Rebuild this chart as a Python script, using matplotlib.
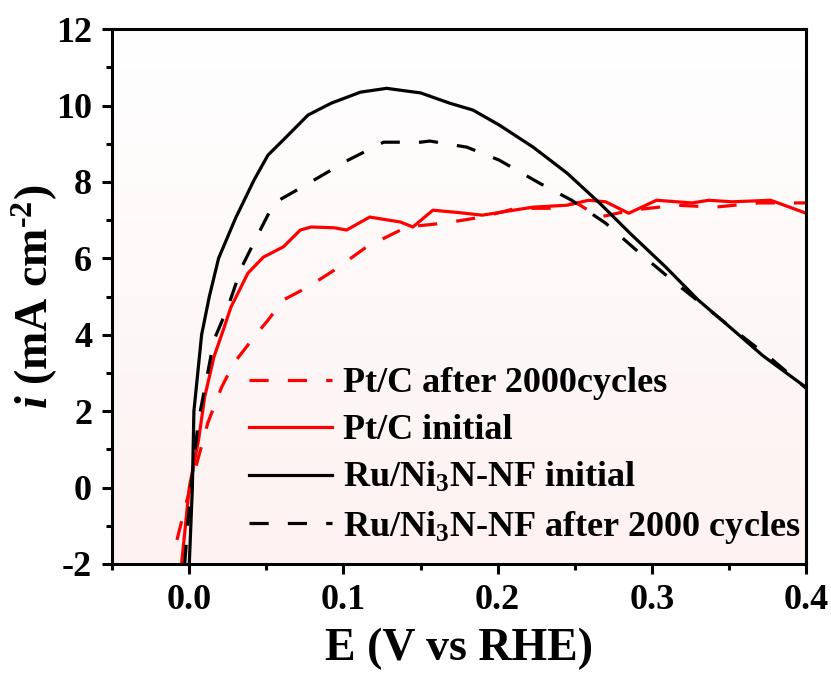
import numpy as np
import matplotlib
matplotlib.use('Agg')
import matplotlib.pyplot as plt
from matplotlib.ticker import MultipleLocator
from matplotlib.colors import LinearSegmentedColormap

plt.rcParams['font.family'] = 'Liberation Serif'
plt.rcParams['font.weight'] = 'bold'
plt.rcParams['axes.unicode_minus'] = False
plt.rcParams['mathtext.fontset'] = 'custom'
plt.rcParams['mathtext.rm'] = 'Liberation Serif:bold'
plt.rcParams['mathtext.bf'] = 'Liberation Serif:bold'
plt.rcParams['mathtext.it'] = 'Liberation Serif:bold:italic'

# Ru/Ni3N-NF initial
ru_init_x = [0.000, 0.002, 0.003, 0.008, 0.013, 0.019, 0.030, 0.042, 0.051, 0.061, 0.077,
             0.092, 0.111, 0.128, 0.137, 0.150, 0.169, 0.184, 0.201, 0.223, 0.245, 0.266,
             0.287, 0.309, 0.330, 0.352, 0.372, 0.400]
ru_init_y = [-2.0, 0.0, 2.0, 4.0, 5.0, 6.0, 7.05, 8.05, 8.7, 9.1, 9.75,
             10.06, 10.35, 10.45, 10.4, 10.33, 10.06, 9.88, 9.49, 8.91, 8.23, 7.45,
             6.61, 5.77, 4.91, 4.15, 3.45, 2.62]

# Ru/Ni3N-NF after 2000 cycles
ru_aft_x = [-0.003, 0.001, 0.006, 0.011, 0.016, 0.025, 0.034, 0.045, 0.055, 0.066, 0.081,
            0.103, 0.126, 0.150, 0.156, 0.180, 0.201, 0.227, 0.248, 0.270, 0.292, 0.313,
            0.335, 0.356, 0.378, 0.400]
ru_aft_y = [-2.0, 0.0, 1.76, 2.8, 3.86, 4.72, 5.77, 6.66, 7.45, 7.7, 8.05,
            8.57, 9.04, 9.04, 9.07, 8.91, 8.57, 7.97, 7.52, 6.92, 6.14, 5.43,
            4.72, 4.04, 3.35, 2.6]

# Pt/C initial
pt_init_x = [-0.005, 0.000, 0.006, 0.010, 0.016, 0.022, 0.027, 0.038, 0.048, 0.061, 0.072,
             0.079, 0.094, 0.102, 0.117, 0.137, 0.145, 0.158, 0.174, 0.190, 0.201, 0.223,
             0.245, 0.259, 0.270, 0.285, 0.303, 0.326, 0.337, 0.352, 0.377, 0.392, 0.400]
pt_init_y = [-2.0, 0.0, 1.24, 2.37, 3.42, 4.12, 4.72, 5.61, 6.03, 6.3, 6.74,
             6.82, 6.8, 6.74, 7.08, 6.95, 6.82, 7.26, 7.2, 7.13, 7.2, 7.34,
             7.39, 7.52, 7.48, 7.18, 7.52, 7.45, 7.52, 7.48, 7.52, 7.3, 7.18]

# Pt/C after 2000 cycles
pt_aft_x = [-0.008, -0.001, 0.006, 0.012, 0.021, 0.029, 0.042, 0.051, 0.061, 0.077, 0.094,
            0.115, 0.141, 0.165, 0.190, 0.212, 0.234, 0.251, 0.266, 0.287, 0.316, 0.341,
            0.369, 0.395, 0.400]
pt_aft_y = [-1.37, -0.25, 0.8, 1.69, 2.63, 3.26, 3.94, 4.38, 4.91, 5.25, 5.69,
            6.3, 6.82, 6.92, 7.08, 7.31, 7.31, 7.45, 7.08, 7.26, 7.39, 7.34,
            7.45, 7.45, 7.45]

fig = plt.figure(figsize=(8.31, 6.77), dpi=100)
ax = fig.add_axes([0.135, 0.167, 0.835, 0.79])

# soft pink gradient behind the data: white on top, pink at the bottom
cmap = LinearSegmentedColormap.from_list('bg', ['#fdf1f1', '#ffffff'])
grad = np.linspace(0, 1, 256).reshape(-1, 1)
ax.imshow(grad, cmap=cmap, aspect='auto', origin='lower', extent=[0, 1, 0, 1],
          transform=ax.transAxes, zorder=0)

lw = 2.3
dash = (6, 6)
ax.plot(pt_aft_x, pt_aft_y, color='red', lw=lw, dashes=dash, label='Pt/C after 2000cycles')
ax.plot(pt_init_x, pt_init_y, color='red', lw=lw, label='Pt/C initial')
ax.plot(ru_init_x, ru_init_y, color='black', lw=lw, label=r'Ru/Ni$_3$N-NF initial')
ax.plot(ru_aft_x, ru_aft_y, color='black', lw=lw, dashes=dash,
        label=r'Ru/Ni$_3$N-NF after 2000 cycles')

ax.set_xlim(-0.05, 0.4)
ax.set_ylim(-2, 12)
ax.xaxis.set_major_locator(MultipleLocator(0.1))
ax.xaxis.set_minor_locator(MultipleLocator(0.05))
ax.yaxis.set_major_locator(MultipleLocator(2))
ax.yaxis.set_minor_locator(MultipleLocator(1))
ax.set_xticks([0.0, 0.1, 0.2, 0.3, 0.4])
ax.set_xticklabels(['0.0', '0.1', '0.2', '0.3', '0.4'])

for s in ax.spines.values():
    s.set_linewidth(2.2)
ax.tick_params(which='major', direction='out', length=7.5, width=2.2, labelsize=26)
ax.tick_params(axis='y', which='major', pad=7)
ax.tick_params(axis='x', which='major', pad=7)
ax.tick_params(which='minor', direction='out', length=4, width=2.2)

ax.set_xlabel('E (V vs RHE)', fontsize=33, fontweight='bold', labelpad=8)
ax.set_ylabel(r'$i$ (mA cm$^{\text{-}2}$)', fontsize=33, fontweight='bold', labelpad=-3)

leg = ax.legend(loc='lower right', bbox_to_anchor=(1.018, 0.0), frameon=False,
                fontsize=26, handlelength=2.3, handletextpad=0.3, labelspacing=0.38,
                borderaxespad=0.1)

fig.savefig('out.png', dpi=100)
